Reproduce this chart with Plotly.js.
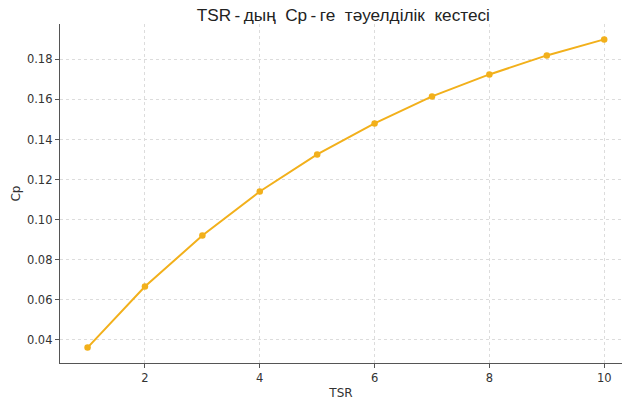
<!DOCTYPE html>
<html><head><meta charset="utf-8">
<script src="https://cdn.plot.ly/plotly-3.0.1.min.js"></script>
<style>html,body{margin:0;padding:0;background:#fff}#c{width:622px;height:403px}</style>
</head><body><div id="c"></div>
<script>
const tsr = [1, 2, 3, 4, 5, 6, 7, 8, 9, 10];
const cp = [0.036, 0.0665, 0.092, 0.114, 0.1325, 0.148, 0.1615, 0.1725, 0.182, 0.19];
const xTicks = [2, 4, 6, 8, 10];
const yTicks = [0.04, 0.06, 0.08, 0.10, 0.12, 0.14, 0.16, 0.18];
const titleText = 'TSR\u2009-\u2009дың\u00A0\u00A0Cp\u2009-\u2009ге\u00A0\u00A0тәуелділік\u00A0\u00A0кестесі';

const axisCommon = {
  showline: true, linecolor: '#555', linewidth: 1.2,
  ticks: 'outside', ticklen: 4, tickcolor: '#555',
  showgrid: true, gridcolor: '#dcdcdc', griddash: 'dot', gridwidth: 1,
  zeroline: false, tickfont: {family: 'DejaVu Sans', size: 11.5, color: '#333'}
};
Plotly.newPlot('c', [{
  x: tsr, y: cp, type: 'scatter', mode: 'lines+markers',
  line: {color: '#f2b01b', width: 2},
  marker: {color: '#f2b01b', size: 6.5}
}], {
  width: 622, height: 403,
  margin: {l: 60, r: 0, t: 24, b: 40},
  paper_bgcolor: '#fff', plot_bgcolor: '#fff',
  showlegend: false,
  title: {text: titleText, font: {family: 'Liberation Sans', size: 17.2, color: '#222'}, x: 0.552, xanchor: 'center', y: 0.978, yanchor: 'top'},
  xaxis: Object.assign({}, axisCommon, {range: [0.52, 10.31], tickvals: xTicks, ticktext: xTicks.map(String),
    title: {text: 'TSR', font: {family: 'DejaVu Sans', size: 12, color: '#333'}, standoff: 4}}),
  yaxis: Object.assign({}, axisCommon, {range: [0.0283, 0.1977], tickvals: yTicks, ticktext: yTicks.map(v => v.toFixed(2)),
    title: {text: 'Cp', font: {family: 'DejaVu Sans', size: 12, color: '#333'}, standoff: 3}})
}, {displayModeBar: false, staticPlot: true});
</script></body></html>
